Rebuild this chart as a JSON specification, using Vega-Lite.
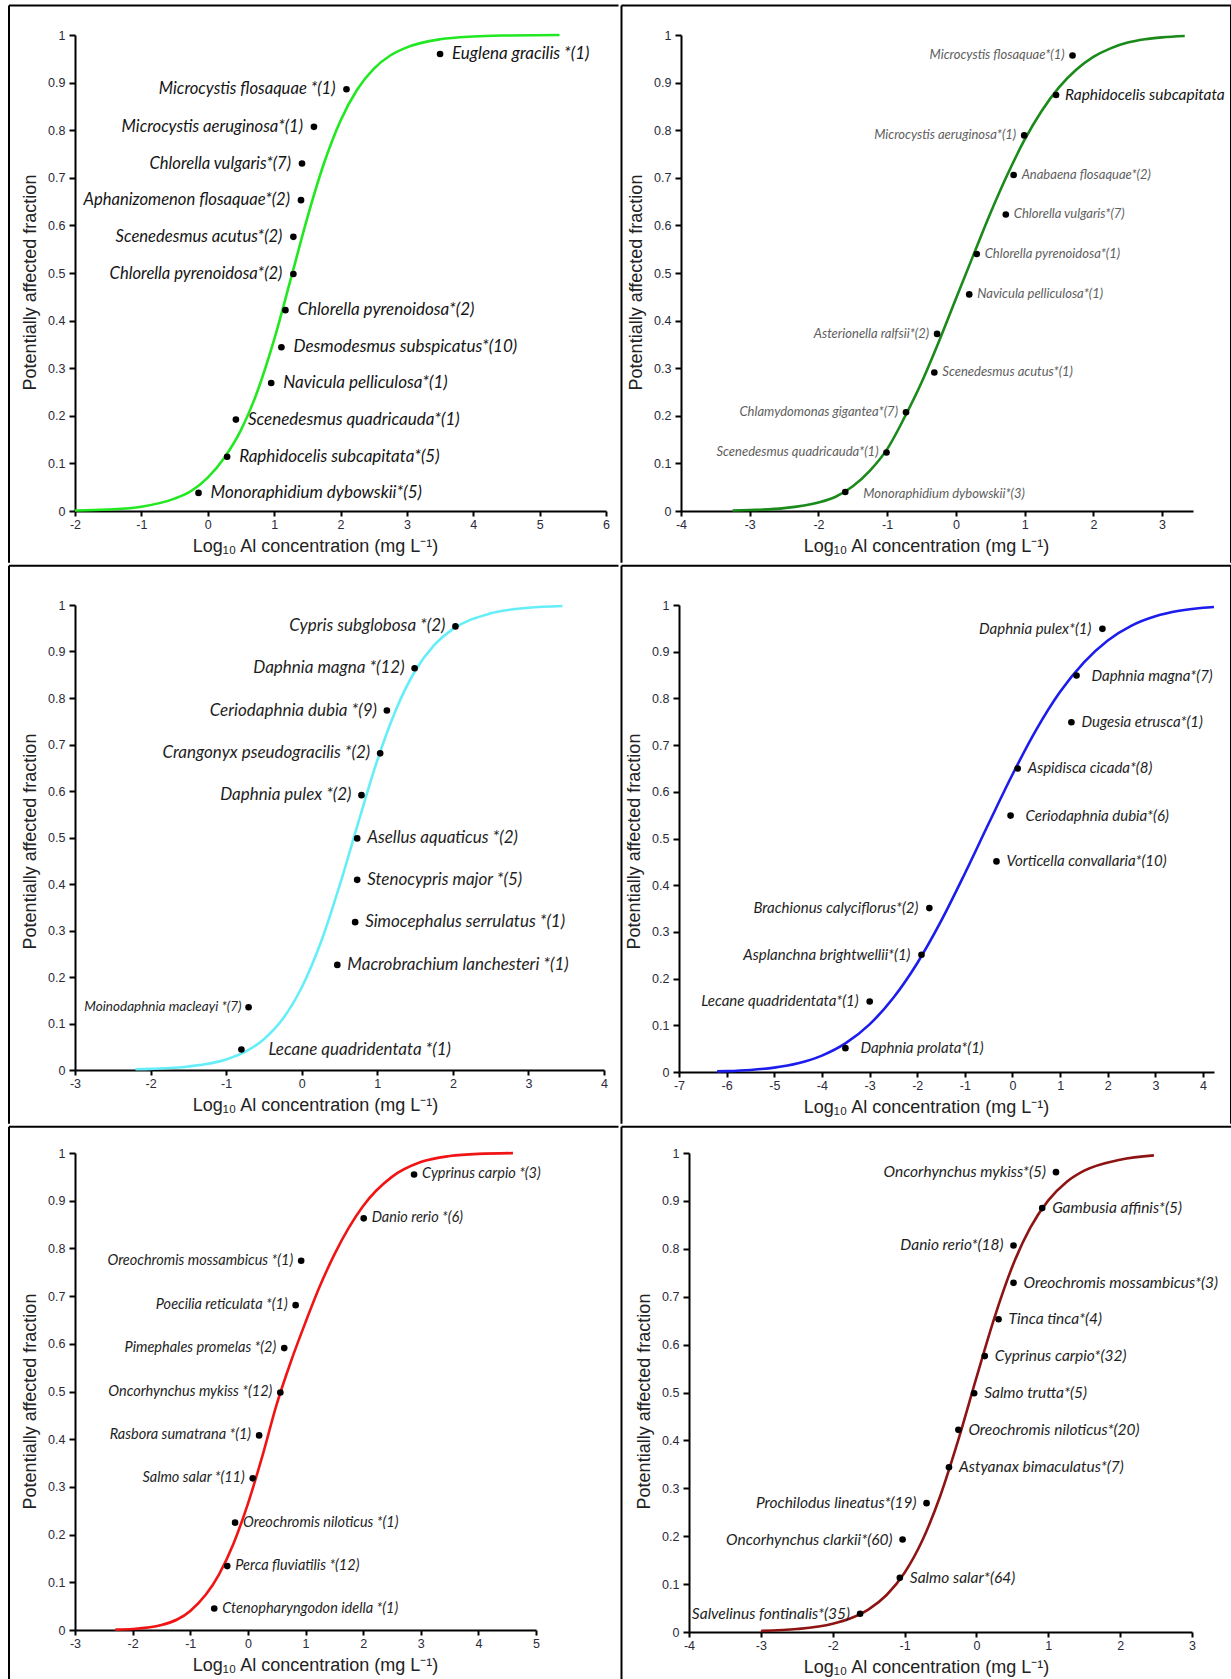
{
"$schema": "https://vega.github.io/schema/vega-lite/v6.json",
"padding": 0,
"background": "white",
"spacing": 0,
"datasets": {
"p1": [
{"species":"Euglena gracilis *(1)","x":3.5,"y":0.96,"side":"right"},
{"species":"Microcystis flosaquae *(1)","x":2.09,"y":0.886,"side":"left"},
{"species":"Microcystis aeruginosa*(1)","x":1.6,"y":0.807,"side":"left"},
{"species":"Chlorella vulgaris*(7)","x":1.42,"y":0.73,"side":"left"},
{"species":"Aphanizomenon flosaquae*(2)","x":1.405,"y":0.653,"side":"left"},
{"species":"Scenedesmus acutus*(2)","x":1.29,"y":0.576,"side":"left"},
{"species":"Chlorella pyrenoidosa*(2)","x":1.29,"y":0.498,"side":"left"},
{"species":"Chlorella pyrenoidosa*(2)","x":1.17,"y":0.422,"side":"right"},
{"species":"Desmodesmus subspicatus*(10)","x":1.11,"y":0.344,"side":"right"},
{"species":"Navicula pelliculosa*(1)","x":0.956,"y":0.269,"side":"right"},
{"species":"Scenedesmus quadricauda*(1)","x":0.424,"y":0.192,"side":"right"},
{"species":"Raphidocelis subcapitata*(5)","x":0.292,"y":0.114,"side":"right"},
{"species":"Monoraphidium dybowskii*(5)","x":-0.139,"y":0.038,"side":"right"}
],
"c1": [
{"x":-2,"y":0.001},{"x":-1.5,"y":0.003},{"x":-1,"y":0.009},{"x":-0.5,"y":0.026},{"x":-0.25,"y":0.042},{"x":0,"y":0.07},{"x":0.25,"y":0.112},{"x":0.5,"y":0.17},{"x":0.75,"y":0.252},{"x":1,"y":0.36},{"x":1.25,"y":0.487},{"x":1.5,"y":0.616},{"x":1.75,"y":0.73},{"x":2,"y":0.82},{"x":2.25,"y":0.885},{"x":2.5,"y":0.929},{"x":2.75,"y":0.957},{"x":3,"y":0.974},{"x":3.5,"y":0.991},{"x":4,"y":0.997},{"x":4.5,"y":0.999},{"x":5.3,"y":1.0}
],
"p2": [
{"species":"Microcystis flosaquae*(1)","x":1.697,"y":0.957,"side":"left"},
{"species":"Raphidocelis subcapitata","x":1.457,"y":0.874,"side":"right"},
{"species":"Microcystis aeruginosa*(1)","x":0.994,"y":0.789,"side":"left"},
{"species":"Anabaena flosaquae*(2)","x":0.84,"y":0.706,"side":"right"},
{"species":"Chlorella vulgaris*(7)","x":0.726,"y":0.623,"side":"right"},
{"species":"Chlorella pyrenoidosa*(1)","x":0.303,"y":0.54,"side":"right"},
{"species":"Navicula pelliculosa*(1)","x":0.194,"y":0.455,"side":"right"},
{"species":"Asterionella ralfsii*(2)","x":-0.274,"y":0.372,"side":"left"},
{"species":"Scenedesmus acutus*(1)","x":-0.314,"y":0.291,"side":"right"},
{"species":"Chlamydomonas gigantea*(7)","x":-0.726,"y":0.2075,"side":"left"},
{"species":"Scenedesmus quadricauda*(1)","x":-1.01,"y":0.123,"side":"left"},
{"species":"Monoraphidium dybowskii*(3)","x":-1.61,"y":0.04,"side":"right"}
],
"c2": [
{"x":-3.25,"y":0.001},{"x":-3,"y":0.002},{"x":-2.5,"y":0.006},{"x":-2,"y":0.018},{"x":-1.75,"y":0.03},{"x":-1.5,"y":0.052},{"x":-1.25,"y":0.085},{"x":-1,"y":0.13},{"x":-0.75,"y":0.196},{"x":-0.5,"y":0.27},{"x":-0.25,"y":0.355},{"x":0,"y":0.446},{"x":0.25,"y":0.536},{"x":0.5,"y":0.625},{"x":0.75,"y":0.707},{"x":1,"y":0.78},{"x":1.25,"y":0.841},{"x":1.5,"y":0.89},{"x":1.75,"y":0.927},{"x":2,"y":0.954},{"x":2.25,"y":0.972},{"x":2.5,"y":0.984},{"x":2.75,"y":0.991},{"x":3,"y":0.995},{"x":3.33,"y":0.998}
],
"p3": [
{"species":"Cypris subglobosa *(2)","x":2.034,"y":0.954,"side":"left"},
{"species":"Daphnia magna *(12)","x":1.494,"y":0.864,"side":"left"},
{"species":"Ceriodaphnia dubia *(9)","x":1.127,"y":0.773,"side":"left"},
{"species":"Crangonyx pseudogracilis *(2)","x":1.038,"y":0.681,"side":"left"},
{"species":"Daphnia pulex *(2)","x":0.791,"y":0.591,"side":"left"},
{"species":"Asellus aquaticus *(2)","x":0.734,"y":0.498,"side":"right"},
{"species":"Stenocypris major *(5)","x":0.734,"y":0.409,"side":"right"},
{"species":"Simocephalus serrulatus *(1)","x":0.707,"y":0.318,"side":"right"},
{"species":"Macrobrachium lanchesteri *(1)","x":0.471,"y":0.226,"side":"right"},
{"species":"Moinodaphnia macleayi *(7)","x":-0.703,"y":0.135,"side":"left"},
{"species":"Lecane quadridentata *(1)","x":-0.798,"y":0.044,"side":"right"}
],
"c3": [
{"x":-2.2,"y":0.0016},{"x":-2,"y":0.0025},{"x":-1.5,"y":0.0076},{"x":-1,"y":0.0228},{"x":-0.75,"y":0.039},{"x":-0.5,"y":0.0663},{"x":-0.25,"y":0.11},{"x":0,"y":0.1775},{"x":0.25,"y":0.273},{"x":0.5,"y":0.396},{"x":0.75,"y":0.533},{"x":1,"y":0.666},{"x":1.25,"y":0.776},{"x":1.5,"y":0.858},{"x":1.75,"y":0.913},{"x":2,"y":0.948},{"x":2.5,"y":0.982},{"x":3,"y":0.994},{"x":3.45,"y":0.998}
],
"p4": [
{"species":"Daphnia pulex*(1)","x":1.888,"y":0.949,"side":"left"},
{"species":"Daphnia magna*(7)","x":1.344,"y":0.849,"side":"right"},
{"species":"Dugesia etrusca*(1)","x":1.237,"y":0.749,"side":"right"},
{"species":"Aspidisca cicada*(8)","x":0.109,"y":0.65,"side":"right"},
{"species":"Ceriodaphnia dubia*(6)","x":-0.04,"y":0.549,"side":"right"},
{"species":"Vorticella convallaria*(10)","x":-0.336,"y":0.451,"side":"right"},
{"species":"Brachionus calyciflorus*(2)","x":-1.745,"y":0.351,"side":"left"},
{"species":"Asplanchna brightwellii*(1)","x":-1.91,"y":0.251,"side":"left"},
{"species":"Lecane quadridentata*(1)","x":-2.997,"y":0.151,"side":"left"},
{"species":"Daphnia prolata*(1)","x":-3.507,"y":0.051,"side":"right"}
],
"c4": [
{"x":-6.2,"y":0.0013},{"x":-6,"y":0.0019},{"x":-5.5,"y":0.0044},{"x":-5,"y":0.0094},{"x":-4.5,"y":0.0187},{"x":-4,"y":0.0351},{"x":-3.5,"y":0.0617},{"x":-3,"y":0.102},{"x":-2.5,"y":0.159},{"x":-2,"y":0.233},{"x":-1.5,"y":0.323},{"x":-1,"y":0.425},{"x":-0.5,"y":0.532},{"x":0,"y":0.637},{"x":0.5,"y":0.733},{"x":1,"y":0.814},{"x":1.5,"y":0.877},{"x":2,"y":0.924},{"x":2.5,"y":0.956},{"x":3,"y":0.976},{"x":3.5,"y":0.9876},{"x":4,"y":0.994},{"x":4.23,"y":0.9958}
],
"p5": [
{"species":"Cyprinus carpio *(3)","x":2.884,"y":0.955,"side":"right"},
{"species":"Danio rerio *(6)","x":2.01,"y":0.863,"side":"right"},
{"species":"Oreochromis mossambicus *(1)","x":0.925,"y":0.774,"side":"left"},
{"species":"Poecilia reticulata *(1)","x":0.829,"y":0.681,"side":"left"},
{"species":"Pimephales promelas *(2)","x":0.631,"y":0.591,"side":"left"},
{"species":"Oncorhynchus mykiss *(12)","x":0.563,"y":0.498,"side":"left"},
{"species":"Rasbora sumatrana *(1)","x":0.195,"y":0.408,"side":"left"},
{"species":"Salmo salar *(11)","x":0.085,"y":0.318,"side":"left"},
{"species":"Oreochromis niloticus *(1)","x":-0.222,"y":0.225,"side":"right"},
{"species":"Perca fluviatilis *(12)","x":-0.358,"y":0.134,"side":"right"},
{"species":"Ctenopharyngodon idella *(1)","x":-0.584,"y":0.045,"side":"right"}
],
"c5": [
{"x":-2.3,"y":0.0007},{"x":-2,"y":0.002},{"x":-1.5,"y":0.0103},{"x":-1,"y":0.0398},{"x":-0.5,"y":0.1168},{"x":-0.25,"y":0.181},{"x":0,"y":0.2646},{"x":0.25,"y":0.364},{"x":0.5,"y":0.473},{"x":0.75,"y":0.564},{"x":1,"y":0.645},{"x":1.25,"y":0.721},{"x":1.5,"y":0.787},{"x":1.75,"y":0.843},{"x":2,"y":0.889},{"x":2.5,"y":0.95},{"x":3,"y":0.981},{"x":3.5,"y":0.9936},{"x":4,"y":0.9982},{"x":4.6,"y":0.9997}
],
"p6": [
{"species":"Oncorhynchus mykiss*(5)","x":1.107,"y":0.96,"side":"left"},
{"species":"Gambusia affinis*(5)","x":0.915,"y":0.885,"side":"right"},
{"species":"Danio rerio*(18)","x":0.516,"y":0.807,"side":"left"},
{"species":"Oreochromis mossambicus*(3)","x":0.516,"y":0.729,"side":"right"},
{"species":"Tinca tinca*(4)","x":0.308,"y":0.653,"side":"right"},
{"species":"Cyprinus carpio*(32)","x":0.116,"y":0.576,"side":"right"},
{"species":"Salmo trutta*(5)","x":-0.032,"y":0.4985,"side":"right"},
{"species":"Oreochromis niloticus*(20)","x":-0.251,"y":0.422,"side":"right"},
{"species":"Astyanax bimaculatus*(7)","x":-0.382,"y":0.344,"side":"right"},
{"species":"Prochilodus lineatus*(19)","x":-0.694,"y":0.269,"side":"left"},
{"species":"Oncorhynchus clarkii*(60)","x":-1.028,"y":0.193,"side":"left"},
{"species":"Salmo salar*(64)","x":-1.066,"y":0.113,"side":"right"},
{"species":"Salvelinus fontinalis*(35)","x":-1.619,"y":0.038,"side":"left"}
],
"c6": [
{"x":-3,"y":0.0022},{"x":-2.5,"y":0.0062},{"x":-2,"y":0.0173},{"x":-1.75,"y":0.0287},{"x":-1.5,"y":0.0474},{"x":-1.25,"y":0.0773},{"x":-1,"y":0.1237},{"x":-0.75,"y":0.192},{"x":-0.5,"y":0.2856},{"x":-0.25,"y":0.402},{"x":0,"y":0.531},{"x":0.25,"y":0.656},{"x":0.5,"y":0.763},{"x":0.75,"y":0.844},{"x":1,"y":0.901},{"x":1.25,"y":0.939},{"x":1.5,"y":0.963},{"x":2,"y":0.986},{"x":2.47,"y":0.995}
]
},
"vconcat": [
{"spacing": 0, "hconcat": [
{
"width": 531, "height": 476,
"layer": [
{"data": {"values": [{}]}, "mark": {"type": "rect", "fill": "#ffffff", "fillOpacity": 0, "strokeWidth": 0, "clip": false}, "encoding": {"x": {"datum": -3.11488}, "x2": {"datum": 6.20339}, "y": {"datum": 1.073529}, "y2": {"datum": -0.110714}}},
{"data": {"values": [{}]}, "mark": {"type": "rule", "color": "#000000", "strokeWidth": 2, "clip": false}, "encoding": {"x": {"datum": -2.99435}, "x2": {"datum": 6.18832}, "y": {"datum": 1.061975}}},
{"data": {"values": [{}]}, "mark": {"type": "rule", "color": "#000000", "strokeWidth": 2, "clip": false}, "encoding": {"x": {"datum": -2.99435}, "y": {"datum": 1.061975}, "y2": {"datum": -0.108613}}},
{
"encoding": {
"x": {"field": "x", "type": "quantitative", "scale": {"domain": [-2, 6], "nice": false, "zero": false}, "axis": {"values": [-2,-1.5,-1,-0.5,0,0.5,1,1.5,2,2.5,3,3.5,4,4.5,5,5.5,6], "labelExpr": "datum.value % 1 == 0 ? '' + datum.value : ''", "title": "Log₁₀ Al concentration (mg L⁻¹)", "titleX": 240}},
"y": {"field": "y", "type": "quantitative", "scale": {"domain": [0, 1], "nice": false, "zero": false}, "axis": {"values": [0,0.05,0.1,0.15,0.2,0.25,0.3,0.35,0.4,0.45,0.5,0.55,0.6,0.65,0.7,0.75,0.8,0.85,0.9,0.95,1], "labelExpr": "round(datum.value * 20) % 2 == 0 ? '' + datum.value : ''", "title": "Potentially affected fraction", "titleY": 247}}
},
"layer": [
{"data": {"name": "c1"}, "mark": {"type": "line", "color": "#22e822", "strokeWidth": 2.6, "interpolate": "monotone"}},
{"data": {"name": "p1"}, "mark": {"type": "circle", "size": 44, "color": "#000000", "opacity": 1}},
{"data": {"name": "p1"}, "transform": [{"filter": "datum.side == 'right'"}], "mark": {"type": "text", "align": "left", "baseline": "middle", "dx": 12, "font": "Lato", "fontStyle": "italic", "fontSize": 17, "color": "#151515"}, "encoding": {"text": {"field": "species"}}},
{"data": {"name": "p1"}, "transform": [{"filter": "datum.side == 'left'"}], "mark": {"type": "text", "align": "right", "baseline": "middle", "dx": -11, "font": "Lato", "fontStyle": "italic", "fontSize": 16.6, "color": "#151515"}, "encoding": {"text": {"field": "species"}}}
]
}
]
},
{
"width": 512, "height": 476,
"layer": [
{"data": {"values": [{}]}, "mark": {"type": "rect", "fill": "#ffffff", "fillOpacity": 0, "strokeWidth": 0, "clip": false}, "encoding": {"x": {"datum": -4.880322}, "x2": {"datum": 4.03203}, "y": {"datum": 1.073529}, "y2": {"datum": -0.110714}}},
{"data": {"values": [{}]}, "mark": {"type": "rule", "color": "#000000", "strokeWidth": 2, "clip": false}, "encoding": {"x": {"datum": -4.865771}, "x2": {"datum": 4.01748}, "y": {"datum": 1.061975}}},
{"data": {"values": [{}]}, "mark": {"type": "rule", "color": "#000000", "strokeWidth": 2, "clip": false}, "encoding": {"x": {"datum": -4.865771}, "y": {"datum": 1.061975}, "y2": {"datum": -0.108613}}},
{"data": {"values": [{}]}, "mark": {"type": "rule", "color": "#000000", "strokeWidth": 2, "clip": false}, "encoding": {"x": {"datum": 4.00293}, "y": {"datum": 1.061975}, "y2": {"datum": -0.108613}}},
{
"encoding": {
"x": {"field": "x", "type": "quantitative", "scale": {"domain": [-4, 3.45], "nice": false, "zero": false}, "axis": {"values": [-4,-3.5,-3,-2.5,-2,-1.5,-1,-0.5,0,0.5,1,1.5,2,2.5,3], "labelExpr": "datum.value % 1 == 0 ? '' + datum.value : ''", "title": "Log₁₀ Al concentration (mg L⁻¹)", "titleX": 245, "labelFont": "Liberation Sans Narrow, Liberation Sans"}},
"y": {"field": "y", "type": "quantitative", "scale": {"domain": [0, 1], "nice": false, "zero": false}, "axis": {"values": [0,0.05,0.1,0.15,0.2,0.25,0.3,0.35,0.4,0.45,0.5,0.55,0.6,0.65,0.7,0.75,0.8,0.85,0.9,0.95,1], "labelExpr": "round(datum.value * 20) % 2 == 0 ? '' + datum.value : ''", "title": "Potentially affected fraction", "titleY": 247, "labelFont": "Liberation Sans Narrow, Liberation Sans"}}
},
"layer": [
{"data": {"name": "c2"}, "mark": {"type": "line", "color": "#1a8a1a", "strokeWidth": 2.6, "interpolate": "monotone"}},
{"data": {"name": "p2"}, "mark": {"type": "circle", "size": 44, "color": "#000000", "opacity": 1}},
{"data": {"name": "p2"}, "transform": [{"filter": "datum.side == 'right' && datum.species != 'Raphidocelis subcapitata' && datum.species != 'Monoraphidium dybowskii*(3)'"}], "mark": {"type": "text", "align": "left", "baseline": "middle", "dx": 8, "font": "Lato", "fontStyle": "italic", "fontSize": 13, "color": "#5e5e5e"}, "encoding": {"text": {"field": "species"}}},
{"data": {"name": "p2"}, "transform": [{"filter": "datum.species == 'Monoraphidium dybowskii*(3)'"}], "mark": {"type": "text", "align": "left", "baseline": "middle", "dx": 18, "dy": 2, "font": "Lato", "fontStyle": "italic", "fontSize": 13, "color": "#5e5e5e"}, "encoding": {"text": {"field": "species"}}},
{"data": {"name": "p2"}, "transform": [{"filter": "datum.species == 'Raphidocelis subcapitata'"}], "mark": {"type": "text", "align": "left", "baseline": "middle", "dx": 9, "font": "Lato", "fontStyle": "italic", "fontSize": 15.5, "color": "#151515"}, "encoding": {"text": {"field": "species"}}},
{"data": {"name": "p2"}, "transform": [{"filter": "datum.side == 'left'"}], "mark": {"type": "text", "align": "right", "baseline": "middle", "dx": -8, "font": "Lato", "fontStyle": "italic", "fontSize": 13, "color": "#5e5e5e"}, "encoding": {"text": {"field": "species"}}}
]
}
]
}
]},
{"spacing": 0, "hconcat": [
{
"width": 529, "height": 465,
"layer": [
{"data": {"values": [{}]}, "mark": {"type": "rect", "fill": "#ffffff", "fillOpacity": 0, "strokeWidth": 0, "clip": false}, "encoding": {"x": {"datum": -3.979206}, "x2": {"datum": 4.2051}, "y": {"datum": 1.086667}, "y2": {"datum": -0.117634}}},
{"data": {"values": [{}]}, "mark": {"type": "rule", "color": "#000000", "strokeWidth": 2, "clip": false}, "encoding": {"x": {"datum": -3.873346}, "x2": {"datum": 4.19187}, "y": {"datum": 1.084516}}},
{"data": {"values": [{}]}, "mark": {"type": "rule", "color": "#000000", "strokeWidth": 2, "clip": false}, "encoding": {"x": {"datum": -3.873346}, "y": {"datum": 1.084516}, "y2": {"datum": -0.115484}}},
{
"encoding": {
"x": {"field": "x", "type": "quantitative", "scale": {"domain": [-3, 4], "nice": false, "zero": false}, "axis": {"values": [-3,-2.5,-2,-1.5,-1,-0.5,0,0.5,1,1.5,2,2.5,3,3.5,4], "labelExpr": "datum.value % 1 == 0 ? '' + datum.value : ''", "title": "Log₁₀ Al concentration (mg L⁻¹)", "titleX": 240}},
"y": {"field": "y", "type": "quantitative", "scale": {"domain": [0, 1], "nice": false, "zero": false}, "axis": {"values": [0,0.05,0.1,0.15,0.2,0.25,0.3,0.35,0.4,0.45,0.5,0.55,0.6,0.65,0.7,0.75,0.8,0.85,0.9,0.95,1], "labelExpr": "round(datum.value * 20) % 2 == 0 ? '' + datum.value : ''", "title": "Potentially affected fraction", "titleY": 236}}
},
"layer": [
{"data": {"name": "c3"}, "mark": {"type": "line", "color": "#66eef8", "strokeWidth": 2.6, "interpolate": "monotone"}},
{"data": {"name": "p3"}, "mark": {"type": "circle", "size": 44, "color": "#000000", "opacity": 1}},
{"data": {"name": "p3"}, "transform": [{"filter": "datum.side == 'right' && datum.species != 'Lecane quadridentata *(1)'"}], "mark": {"type": "text", "align": "left", "baseline": "middle", "dx": 10, "font": "Lato", "fontStyle": "italic", "fontSize": 17, "color": "#1e1e1e"}, "encoding": {"text": {"field": "species"}}},
{"data": {"name": "p3"}, "transform": [{"filter": "datum.species == 'Lecane quadridentata *(1)'"}], "mark": {"type": "text", "align": "left", "baseline": "middle", "dx": 27, "font": "Lato", "fontStyle": "italic", "fontSize": 17, "color": "#1e1e1e"}, "encoding": {"text": {"field": "species"}}},
{"data": {"name": "p3"}, "transform": [{"filter": "datum.side == 'left' && datum.species != 'Moinodaphnia macleayi *(7)'"}], "mark": {"type": "text", "align": "right", "baseline": "middle", "dx": -10, "font": "Lato", "fontStyle": "italic", "fontSize": 17, "color": "#1e1e1e"}, "encoding": {"text": {"field": "species"}}},
{"data": {"name": "p3"}, "transform": [{"filter": "datum.species == 'Moinodaphnia macleayi *(7)'"}], "mark": {"type": "text", "align": "right", "baseline": "middle", "dx": -7, "font": "Lato", "fontStyle": "italic", "fontSize": 13.5, "color": "#1e1e1e"}, "encoding": {"text": {"field": "species"}}}
]
}
]
},
{
"width": 535, "height": 467,
"layer": [
{"data": {"values": [{}]}, "mark": {"type": "rect", "fill": "#ffffff", "fillOpacity": 0, "strokeWidth": 0, "clip": false}, "encoding": {"x": {"datum": -8.227953}, "x2": {"datum": 4.62882}, "y": {"datum": 1.086296}, "y2": {"datum": -0.112848}}},
{"data": {"values": [{}]}, "mark": {"type": "rule", "color": "#000000", "strokeWidth": 2, "clip": false}, "encoding": {"x": {"datum": -8.206962}, "x2": {"datum": 4.60783}, "y": {"datum": 1.084154}}},
{"data": {"values": [{}]}, "mark": {"type": "rule", "color": "#000000", "strokeWidth": 2, "clip": false}, "encoding": {"x": {"datum": -8.206962}, "y": {"datum": 1.084154}, "y2": {"datum": -0.110707}}},
{"data": {"values": [{}]}, "mark": {"type": "rule", "color": "#000000", "strokeWidth": 2, "clip": false}, "encoding": {"x": {"datum": 4.58684}, "y": {"datum": 1.084154}, "y2": {"datum": -0.110707}}},
{
"encoding": {
"x": {"field": "x", "type": "quantitative", "scale": {"domain": [-7, 4.23], "nice": false, "zero": false}, "axis": {"values": [-7,-6.5,-6,-5.5,-5,-4.5,-4,-3.5,-3,-2.5,-2,-1.5,-1,-0.5,0,0.5,1,1.5,2,2.5,3,3.5,4], "labelExpr": "datum.value % 1 == 0 ? '' + datum.value : ''", "title": "Log₁₀ Al concentration (mg L⁻¹)", "titleX": 247, "labelFont": "Liberation Sans Narrow, Liberation Sans"}},
"y": {"field": "y", "type": "quantitative", "scale": {"domain": [0, 1], "nice": false, "zero": false}, "axis": {"values": [0,0.05,0.1,0.15,0.2,0.25,0.3,0.35,0.4,0.45,0.5,0.55,0.6,0.65,0.7,0.75,0.8,0.85,0.9,0.95,1], "labelExpr": "round(datum.value * 20) % 2 == 0 ? '' + datum.value : ''", "title": "Potentially affected fraction", "titleY": 236, "labelFont": "Liberation Sans Narrow, Liberation Sans"}}
},
"layer": [
{"data": {"name": "c4"}, "mark": {"type": "line", "color": "#1c1ced", "strokeWidth": 2.6, "interpolate": "monotone"}},
{"data": {"name": "p4"}, "mark": {"type": "circle", "size": 44, "color": "#000000", "opacity": 1}},
{"data": {"name": "p4"}, "transform": [{"filter": "datum.side == 'right' && indexof(['Daphnia magna*(7)', 'Daphnia prolata*(1)', 'Ceriodaphnia dubia*(6)'], datum.species) < 0"}], "mark": {"type": "text", "align": "left", "baseline": "middle", "dx": 10, "font": "Lato", "fontStyle": "italic", "fontSize": 15, "color": "#1e1e1e"}, "encoding": {"text": {"field": "species"}}},
{"data": {"name": "p4"}, "transform": [{"filter": "indexof(['Daphnia magna*(7)', 'Daphnia prolata*(1)', 'Ceriodaphnia dubia*(6)'], datum.species) >= 0"}], "mark": {"type": "text", "align": "left", "baseline": "middle", "dx": 15, "font": "Lato", "fontStyle": "italic", "fontSize": 15, "color": "#1e1e1e"}, "encoding": {"text": {"field": "species"}}},
{"data": {"name": "p4"}, "transform": [{"filter": "datum.side == 'left'"}], "mark": {"type": "text", "align": "right", "baseline": "middle", "dx": -11, "font": "Lato", "fontStyle": "italic", "fontSize": 15, "color": "#1e1e1e"}, "encoding": {"text": {"field": "species"}}}
]
}
]
}
]},
{"spacing": 0, "hconcat": [
{
"width": 461, "height": 477,
"layer": [
{"data": {"values": [{}]}, "mark": {"type": "rect", "fill": "#ffffff", "fillOpacity": 0, "strokeWidth": 0, "clip": false}, "encoding": {"x": {"datum": -4.284165}, "x2": {"datum": 6.44903}, "y": {"datum": 1.057233}, "y2": {"datum": -0.106918}}},
{"data": {"values": [{}]}, "mark": {"type": "rule", "color": "#000000", "strokeWidth": 2, "clip": false}, "encoding": {"x": {"datum": -4.145336}, "x2": {"datum": 6.43167}, "y": {"datum": 1.055136}}},
{"data": {"values": [{}]}, "mark": {"type": "rule", "color": "#000000", "strokeWidth": 2, "clip": false}, "encoding": {"x": {"datum": -4.145336}, "y": {"datum": 1.055136}, "y2": {"datum": -0.104822}}},
{
"encoding": {
"x": {"field": "x", "type": "quantitative", "scale": {"domain": [-3, 5], "nice": false, "zero": false}, "axis": {"values": [-3,-2.5,-2,-1.5,-1,-0.5,0,0.5,1,1.5,2,2.5,3,3.5,4,4.5,5], "labelExpr": "datum.value % 1 == 0 ? '' + datum.value : ''", "title": "Log₁₀ Al concentration (mg L⁻¹)", "titleX": 240}},
"y": {"field": "y", "type": "quantitative", "scale": {"domain": [0, 1], "nice": false, "zero": false}, "axis": {"values": [0,0.05,0.1,0.15,0.2,0.25,0.3,0.35,0.4,0.45,0.5,0.55,0.6,0.65,0.7,0.75,0.8,0.85,0.9,0.95,1], "labelExpr": "round(datum.value * 20) % 2 == 0 ? '' + datum.value : ''", "title": "Potentially affected fraction", "titleY": 248}}
},
"layer": [
{"data": {"name": "c5"}, "mark": {"type": "line", "color": "#f01414", "strokeWidth": 2.6, "interpolate": "monotone"}},
{"data": {"name": "p5"}, "mark": {"type": "circle", "size": 44, "color": "#000000", "opacity": 1}},
{"data": {"name": "p5"}, "transform": [{"filter": "datum.side == 'right'"}], "mark": {"type": "text", "align": "left", "baseline": "middle", "dx": 8, "font": "Lato", "fontStyle": "italic", "fontSize": 14.5, "color": "#1e1e1e"}, "encoding": {"text": {"field": "species"}}},
{"data": {"name": "p5"}, "transform": [{"filter": "datum.side == 'left'"}], "mark": {"type": "text", "align": "right", "baseline": "middle", "dx": -8, "font": "Lato", "fontStyle": "italic", "fontSize": 14.5, "color": "#1e1e1e"}, "encoding": {"text": {"field": "species"}}}
]
}
]
},
{
"width": 503, "height": 479,
"layer": [
{"data": {"values": [{}]}, "mark": {"type": "rect", "fill": "#ffffff", "fillOpacity": 0, "strokeWidth": 0, "clip": false}, "encoding": {"x": {"datum": -4.95328}, "x2": {"datum": 3.57058}, "y": {"datum": 1.056994}, "y2": {"datum": -0.102296}}},
{"data": {"values": [{}]}, "mark": {"type": "rule", "color": "#000000", "strokeWidth": 2, "clip": false}, "encoding": {"x": {"datum": -4.939364}, "x2": {"datum": 3.55666}, "y": {"datum": 1.054906}}},
{"data": {"values": [{}]}, "mark": {"type": "rule", "color": "#000000", "strokeWidth": 2, "clip": false}, "encoding": {"x": {"datum": -4.939364}, "y": {"datum": 1.054906}, "y2": {"datum": -0.100209}}},
{
"encoding": {
"x": {"field": "x", "type": "quantitative", "scale": {"domain": [-4, 3], "nice": false, "zero": false}, "axis": {"values": [-4,-3.5,-3,-2.5,-2,-1.5,-1,-0.5,0,0.5,1,1.5,2,2.5,3], "labelExpr": "datum.value % 1 == 0 ? '' + datum.value : ''", "title": "Log₁₀ Al concentration (mg L⁻¹)", "titleX": 237}},
"y": {"field": "y", "type": "quantitative", "scale": {"domain": [0, 1], "nice": false, "zero": false}, "axis": {"values": [0,0.05,0.1,0.15,0.2,0.25,0.3,0.35,0.4,0.45,0.5,0.55,0.6,0.65,0.7,0.75,0.8,0.85,0.9,0.95,1], "labelExpr": "round(datum.value * 20) % 2 == 0 ? '' + datum.value : ''", "title": "Potentially affected fraction", "titleY": 248}}
},
"layer": [
{"data": {"name": "c6"}, "mark": {"type": "line", "color": "#8e1414", "strokeWidth": 2.6, "interpolate": "monotone"}},
{"data": {"name": "p6"}, "mark": {"type": "circle", "size": 44, "color": "#000000", "opacity": 1}},
{"data": {"name": "p6"}, "transform": [{"filter": "datum.side == 'right'"}], "mark": {"type": "text", "align": "left", "baseline": "middle", "dx": 10, "font": "Lato", "fontStyle": "italic", "fontSize": 15.5, "color": "#1e1e1e"}, "encoding": {"text": {"field": "species"}}},
{"data": {"name": "p6"}, "transform": [{"filter": "datum.side == 'left'"}], "mark": {"type": "text", "align": "right", "baseline": "middle", "dx": -10, "font": "Lato", "fontStyle": "italic", "fontSize": 15.5, "color": "#1e1e1e"}, "encoding": {"text": {"field": "species"}}}
]
}
]
}
]}
],
"config": {
"view": {"stroke": null},
"axis": {"grid": false, "domainColor": "#000000", "domainWidth": 2, "tickColor": "#000000", "tickWidth": 2, "tickSize": 6, "labelFont": "Liberation Sans", "labelFontSize": 12.5, "labelColor": "#2a2a3a", "labelFlush": false, "labelOverlap": false, "titleFont": "Liberation Sans", "titleFontSize": 18, "titleFontWeight": "normal", "titleColor": "#222222"},
"axisX": {"titlePadding": 7, "labelPadding": 2, "tickSize": 5},
"axisY": {"titlePadding": 8, "labelPadding": 4}
}
}
